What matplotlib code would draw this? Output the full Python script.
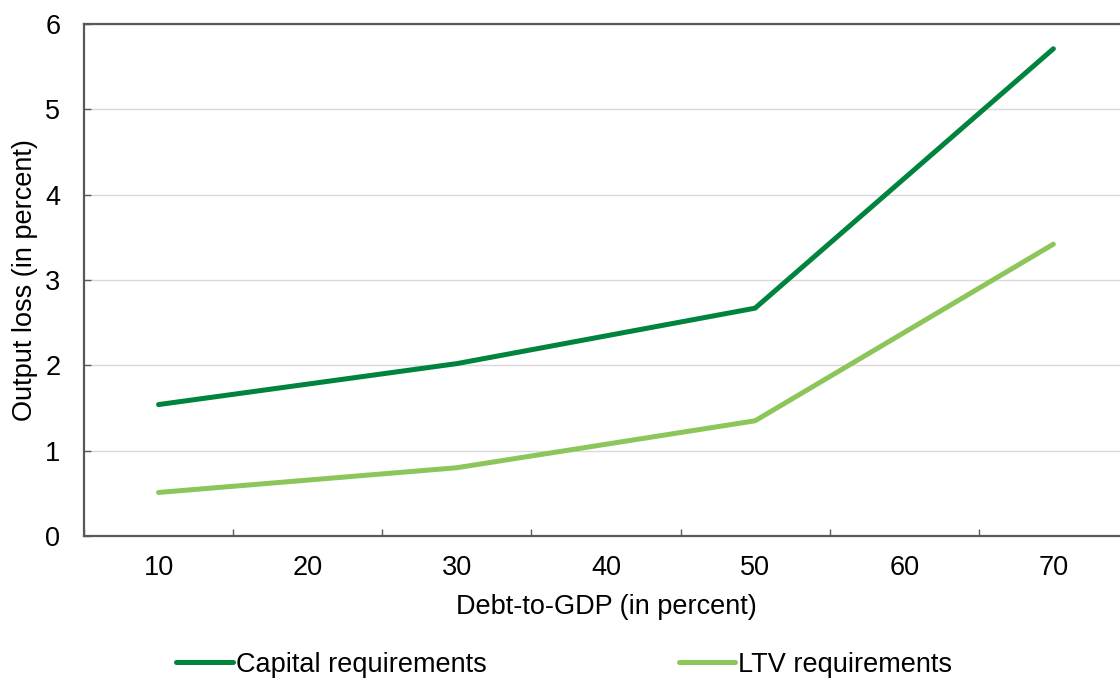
import numpy as np
import matplotlib.pyplot as plt

plt.rcParams['font.family'] = ['Liberation Sans', 'DejaVu Sans']

# --- datos ---
categorias = [10, 20, 30, 40, 50, 60, 70]
x_puntos = [10, 30, 50, 70]
capital = [1.54, 2.02, 2.67, 5.71]
ltv = [0.51, 0.80, 1.35, 3.42]

verde_osc = '#00843d'
verde_cla = '#8cc65a'
gris = '#595959'
tam = 19.5

fig = plt.figure(figsize=(11.2, 6.84), dpi=100)
ax = fig.add_axes([0.075, 0.2164, 0.9321, 0.7485])

ax.plot(x_puntos, capital, color=verde_osc, lw=3.6, solid_capstyle='round',
        label='Capital requirements', zorder=3)
ax.plot(x_puntos, ltv, color=verde_cla, lw=3.6, solid_capstyle='round',
        label='LTV requirements', zorder=3)

ax.set_xlim(5, 75)
ax.set_ylim(0, 6)

# eje de categorias: marcas en los bordes, etiquetas al centro
bordes = np.arange(5, 76, 10)
ax.set_xticks(bordes)
ax.set_xticklabels([])
ax.set_xticks(categorias, minor=True)
ax.set_xticklabels([str(c) for c in categorias], minor=True)
ax.tick_params(axis='x', which='major', direction='in', length=5, width=1, color=gris)
ax.tick_params(axis='x', which='minor', length=0, pad=14, labelsize=tam)

ax.set_yticks(range(0, 7))
ax.tick_params(axis='y', direction='in', length=5, width=1, color=gris, pad=17,
               labelsize=tam)
ax.yaxis.grid(True, color='#d9d9d9', lw=1)
ax.set_axisbelow(True)

for lado in ['left', 'bottom', 'top']:
    ax.spines[lado].set_color(gris)
    ax.spines[lado].set_linewidth(1.6)
ax.spines['right'].set_visible(False)

ax.set_xlabel('Debt-to-GDP (in percent)', fontsize=tam, labelpad=9)
ax.set_ylabel('Output loss (in percent)', fontsize=tam)
ax.yaxis.set_label_coords(-0.044, 0.5)

fig.legend(loc='center', bbox_to_anchor=(0.5036, 0.028), ncol=2, frameon=False,
           fontsize=tam, handlelength=2.1, handletextpad=0.1, columnspacing=7.1)

fig.savefig('out.png', dpi=100)
